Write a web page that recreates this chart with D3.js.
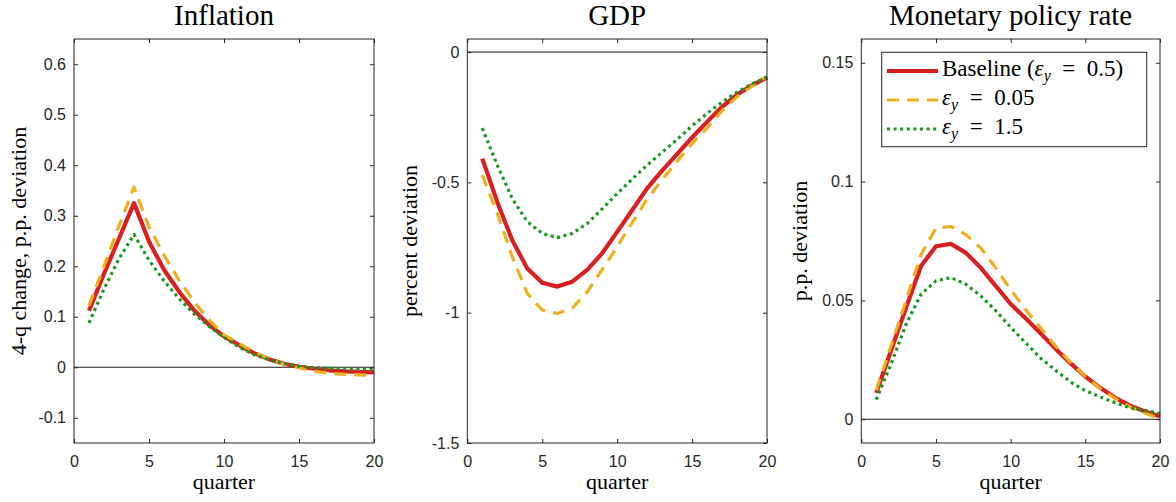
<!DOCTYPE html>
<html>
<head>
<meta charset="utf-8">
<script src="https://cdn.jsdelivr.net/npm/d3@7"></script>
<style>
  body { margin: 0; background: #fff; }
  .tick text { font-family: "Liberation Sans", Arial, sans-serif; font-size: 16px; fill: #262626; }
  .tick line { stroke: #262626; }
  .title, .axlabel, .legtext { font-family: "Liberation Serif", "Times New Roman", serif; fill: #000; }
</style>
</head>
<body>
<div id="chart"></div>
<script>
// quarters after the shock
const quarters = [1, 2, 3, 4, 5, 6, 7, 8, 9, 10, 11, 12, 13, 14, 15, 16, 17, 18, 19, 20];
const xTicks = [0, 5, 10, 15, 20];

// Inflation, 4-q change
const inflationBaseline = [0.112, 0.185, 0.255, 0.325, 0.249, 0.193, 0.150, 0.113, 0.084, 0.061, 0.044, 0.028, 0.016, 0.007, 0.001, -0.003, -0.006, -0.008, -0.009, -0.010];
const inflationLow      = [0.122, 0.200, 0.280, 0.357, 0.278, 0.222, 0.173, 0.130, 0.094, 0.064, 0.047, 0.030, 0.017, 0.006, -0.001, -0.008, -0.012, -0.014, -0.015, -0.016];
const inflationHigh     = [0.088, 0.155, 0.215, 0.263, 0.212, 0.171, 0.136, 0.106, 0.081, 0.059, 0.040, 0.025, 0.015, 0.007, 0.002, -0.001, -0.002, -0.003, -0.004, -0.004];
const inflationTicks = [-0.1, 0, 0.1, 0.2, 0.3, 0.4, 0.5, 0.6];
const inflationTickLabels = ["-0.1", "0", "0.1", "0.2", "0.3", "0.4", "0.5", "0.6"];

// GDP, percent deviation
const gdpBaseline = [-0.409, -0.575, -0.722, -0.830, -0.885, -0.900, -0.881, -0.836, -0.772, -0.690, -0.607, -0.523, -0.455, -0.392, -0.328, -0.268, -0.210, -0.163, -0.128, -0.098];
const gdpLow      = [-0.472, -0.620, -0.785, -0.926, -0.990, -1.003, -0.983, -0.920, -0.836, -0.747, -0.655, -0.565, -0.490, -0.420, -0.352, -0.292, -0.225, -0.172, -0.131, -0.093];
const gdpHigh     = [-0.292, -0.434, -0.562, -0.651, -0.696, -0.712, -0.696, -0.658, -0.602, -0.543, -0.488, -0.434, -0.385, -0.336, -0.283, -0.236, -0.192, -0.154, -0.122, -0.096];
const gdpTicks = [-1.5, -1, -0.5, 0];
const gdpTickLabels = ["-1.5", "-1", "-0.5", "0"];

// Monetary policy rate, p.p. deviation
const rateBaseline = [0.0111, 0.029, 0.047, 0.0645, 0.0728, 0.0738, 0.070, 0.0637, 0.0561, 0.0485, 0.0425, 0.0362, 0.0297, 0.0236, 0.018, 0.0132, 0.009, 0.0057, 0.0033, 0.0013];
const rateLow      = [0.0122, 0.031, 0.050, 0.0693, 0.0804, 0.0811, 0.0777, 0.0721, 0.0637, 0.0545, 0.0462, 0.0385, 0.0308, 0.0240, 0.0180, 0.0130, 0.0087, 0.0052, 0.0025, 0.0003];
const rateHigh     = [0.0083, 0.0234, 0.040, 0.0526, 0.0582, 0.0596, 0.0568, 0.0519, 0.0457, 0.0387, 0.0322, 0.0257, 0.0206, 0.0157, 0.012, 0.0094, 0.0069, 0.0048, 0.0036, 0.0025];
const rateTicks = [0, 0.05, 0.1, 0.15];
const rateTickLabels = ["0", "0.05", "0.1", "0.15"];

const W = 1176, H = 502;
const plotTop = 39, plotBottom = 443;

const styles = [
  {color: "#d91f1f", width: 4.2, dash: null},
  {color: "#edb120", width: 3.2, dash: "12,8"},
  {color: "#179a1c", width: 3.2, dash: "3,3.6"}
];

const panels = [
  {title: "Inflation", ylabel: "4-q change, p.p. deviation", left: 74, right: 374, labelX: 26,
   ydom: [-0.15, 0.65], ticks: inflationTicks, tickLabels: inflationTickLabels,
   series: [inflationBaseline, inflationLow, inflationHigh]},
  {title: "GDP", ylabel: "percent deviation", left: 467.3, right: 767, labelX: 417,
   ydom: [-1.5, 0.05], ticks: gdpTicks, tickLabels: gdpTickLabels,
   series: [gdpBaseline, gdpLow, gdpHigh]},
  {title: "Monetary policy rate", ylabel: "p.p. deviation", left: 861.3, right: 1160, labelX: 807,
   ydom: [-0.01, 0.16], ticks: rateTicks, tickLabels: rateTickLabels,
   series: [rateBaseline, rateLow, rateHigh]}
];

const svg = d3.select("#chart").append("svg")
  .attr("width", W).attr("height", H)
  .style("background", "#fff");

panels.forEach(function(p, pi) {
  var x = d3.scaleLinear().domain([0, 20]).range([p.left, p.right]);
  var y = d3.scaleLinear().domain(p.ydom).range([plotBottom, plotTop]);
  var g = svg.append("g");

  // zero line
  g.append("line")
    .attr("x1", x(0)).attr("x2", x(20))
    .attr("y1", y(0)).attr("y2", y(0))
    .attr("stroke", "#1a1a1a").attr("stroke-width", 1);

  var line = d3.line()
    .x(function(d, i) { return x(quarters[i]); })
    .y(function(d) { return y(d); });

  p.series.forEach(function(s, si) {
    g.append("path")
      .attr("d", line(s))
      .attr("fill", "none")
      .attr("stroke", styles[si].color)
      .attr("stroke-width", styles[si].width)
      .attr("stroke-dasharray", styles[si].dash)
      .attr("stroke-linejoin", "round");
  });

  // axes, ticks pointing inwards like matlab
  var lab = function(v) { return p.tickLabels[p.ticks.indexOf(v)]; };
  g.append("g").attr("transform", "translate(" + p.left + ",0)")
    .call(d3.axisLeft(y).tickValues(p.ticks).tickFormat(lab).tickSizeInner(-4).tickSizeOuter(0).tickPadding(8))
    .call(function(a) { a.select(".domain").remove(); });
  g.append("g").attr("transform", "translate(" + p.right + ",0)")
    .call(d3.axisRight(y).tickValues(p.ticks).tickFormat("").tickSizeInner(-4).tickSizeOuter(0))
    .call(function(a) { a.select(".domain").remove(); });
  g.append("g").attr("transform", "translate(0," + plotBottom + ")")
    .call(d3.axisBottom(x).tickValues(xTicks).tickFormat(d3.format("d")).tickSizeInner(-4).tickSizeOuter(0).tickPadding(13))
    .call(function(a) { a.select(".domain").remove(); });
  g.append("g").attr("transform", "translate(0," + plotTop + ")")
    .call(d3.axisTop(x).tickValues(xTicks).tickFormat("").tickSizeInner(-4).tickSizeOuter(0))
    .call(function(a) { a.select(".domain").remove(); });
  g.selectAll("g").attr("font-family", null).attr("font-size", null);

  // box
  g.append("rect")
    .attr("x", p.left).attr("y", plotTop)
    .attr("width", p.right - p.left).attr("height", plotBottom - plotTop)
    .attr("fill", "none").attr("stroke", "#262626").attr("stroke-width", 1);

  g.append("text").attr("class", "title")
    .attr("x", (p.left + p.right) / 2).attr("y", 25)
    .attr("text-anchor", "middle").attr("font-size", 29)
    .text(p.title);

  g.append("text").attr("class", "axlabel")
    .attr("x", (p.left + p.right) / 2).attr("y", 489)
    .attr("text-anchor", "middle").attr("font-size", 22)
    .text("quarter");

  g.append("text").attr("class", "axlabel")
    .attr("transform", "translate(" + p.labelX + "," + (plotTop + plotBottom) / 2 + ") rotate(-90)")
    .attr("text-anchor", "middle").attr("font-size", 22)
    .text(p.ylabel);
});

// legend in the third panel
const legendLabels = [
  [{t: "Baseline ("}, {t: "\u03b5", it: true}, {t: "y", it: true, sub: true}, {t: "\u2002=\u20020.5)"}],
  [{t: "\u03b5", it: true}, {t: "y", it: true, sub: true}, {t: "\u2002=\u20020.05"}],
  [{t: "\u03b5", it: true}, {t: "y", it: true, sub: true}, {t: "\u2002=\u20021.5"}]
];
const leg = svg.append("g");
leg.append("rect")
  .attr("x", 881.7).attr("y", 52.3).attr("width", 265).attr("height", 94.4)
  .attr("fill", "#fff").attr("stroke", "#262626").attr("stroke-width", 1);
const rowY = [71, 100, 129];
legendLabels.forEach(function(parts, i) {
  leg.append("line")
    .attr("x1", 887).attr("x2", 938)
    .attr("y1", rowY[i]).attr("y2", rowY[i])
    .attr("stroke", styles[i].color)
    .attr("stroke-width", styles[i].width)
    .attr("stroke-dasharray", styles[i].dash);
  var t = leg.append("text").attr("class", "legtext")
    .attr("x", 942).attr("y", rowY[i] + 5).attr("font-size", 23);
  parts.forEach(function(pt) {
    var s = t.append("tspan").text(pt.t);
    if (pt.it) s.attr("font-style", "italic");
    if (pt.sub) s.attr("font-size", 16).attr("dy", 5);
    else if (pt.t.charAt(0) === "\u2002") s.attr("dy", -5);
  });
});
</script>
</body>
</html>
